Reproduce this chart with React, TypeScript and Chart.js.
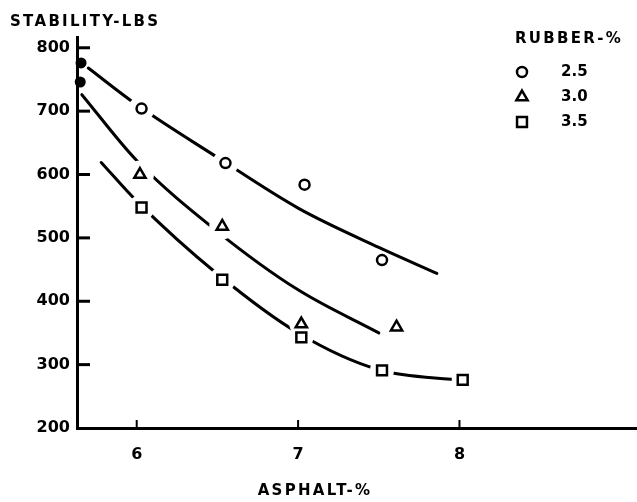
import { useEffect, useRef } from 'react';
import { Chart, registerables } from 'chart.js';

Chart.register(...registerables);

// Axis ticks
const asphaltTicks = [6, 7, 8];
const stabilityTicks = [200, 300, 400, 500, 600, 700, 800];

// Legend
const legendTitle = 'RUBBER-%';
const rubberLabels = ['2.5', '3.0', '3.5'];

// Measured points (asphalt %, stability lbs)
const asphalt25 = [6.03, 6.55, 7.04, 7.52];
const stability25 = [704, 618, 584, 465];
const asphalt30 = [6.02, 6.53, 7.02, 7.61];
const stability30 = [600, 518, 364, 359];
const asphalt35 = [6.03, 6.53, 7.02, 7.52, 8.02];
const stability35 = [548, 434, 343, 291, 276];

// Hand-drawn fitted curves
const curveX25 = [5.7, 6.0, 6.5, 7.0, 7.5, 7.86];
const curveY25 = [768, 710, 627, 547, 485, 444];
const curveX30 = [5.66, 6.0, 6.5, 7.0, 7.5];
const curveY30 = [726, 622, 510, 418, 350];
const curveX35 = [5.78, 6.0, 6.5, 7.0, 7.5, 8.02];
const curveY35 = [619, 558, 443, 350, 292, 275];

// Filled dots on the stability axis
const axisDotX = [5.655, 5.65];
const axisDotY = [776, 746];

const toXY = (xs: number[], ys: number[]) => xs.map((x, i) => ({ x, y: ys[i] }));

const markerStyles = ['circle', 'triangle', 'rect'];
const markerRadius = [5, 6.5, 7];

const drawMarker = (ctx: CanvasRenderingContext2D, style: string, r: number, cx: number, cy: number) => {
  ctx.beginPath();
  if (style === 'circle') {
    ctx.arc(cx, cy, r, 0, Math.PI * 2);
  } else if (style === 'triangle') {
    for (let k = 0; k < 3; k++) {
      const a = -Math.PI / 2 + (k * 2 * Math.PI) / 3;
      const px = cx + r * Math.cos(a);
      const py = cy + r * Math.sin(a);
      if (k === 0) ctx.moveTo(px, py);
      else ctx.lineTo(px, py);
    }
    ctx.closePath();
  } else {
    const s = Math.SQRT1_2 * r;
    ctx.rect(cx - s, cy - s, 2 * s, 2 * s);
  }
  ctx.fillStyle = '#fff';
  ctx.fill();
  ctx.lineWidth = 2.5;
  ctx.strokeStyle = '#000';
  ctx.stroke();
};

const decor = {
  id: 'decor',
  afterDraw(chart: any) {
    const { ctx, chartArea } = chart;
    const xs = chart.scales.x;
    const ys = chart.scales.y;
    ctx.save();
    ctx.strokeStyle = '#000';
    ctx.lineCap = 'butt';
    // inward ticks on the stability axis
    ctx.lineWidth = 3;
    ys.ticks.forEach((t: any) => {
      if (t.value === ys.min) return;
      const py = ys.getPixelForValue(t.value);
      ctx.beginPath();
      ctx.moveTo(chartArea.left, py);
      ctx.lineTo(chartArea.left + 13, py);
      ctx.stroke();
    });
    // inward ticks on the asphalt axis
    ctx.lineWidth = 2;
    xs.ticks.forEach((t: any) => {
      const px = xs.getPixelForValue(t.value);
      ctx.beginPath();
      ctx.moveTo(px, chartArea.bottom);
      ctx.lineTo(px, chartArea.bottom - 8);
      ctx.stroke();
    });
    // titles
    ctx.fillStyle = '#000';
    ctx.font = 'bold 15px "DejaVu Sans"';
    (ctx as any).letterSpacing = '2.3px';
    ctx.textBaseline = 'middle';
    ctx.textAlign = 'left';
    ctx.fillText('STABILITY-LBS', 10, 22);
    ctx.textAlign = 'center';
    ctx.fillText('ASPHALT-%', 315, 491);
    // legend
    ctx.textAlign = 'left';
    ctx.fillText(legendTitle, 515, 39);
    (ctx as any).letterSpacing = '0px';
    ctx.font = 'bold 15px "DejaVu Sans"';
    const rowY = [72, 97, 122];
    rubberLabels.forEach((lab, i) => {
      drawMarker(ctx, markerStyles[i], markerRadius[i], 522, rowY[i]);
      ctx.fillStyle = '#000';
      ctx.fillText(lab, 561, rowY[i]);
    });
    ctx.restore();
  },
};

export default function App() {
  const ref = useRef<HTMLCanvasElement | null>(null);

  useEffect(() => {
    document.body.style.margin = '0';
    const canvas = ref.current;
    if (!canvas) return;
    Chart.defaults.font.family = '"DejaVu Sans"';

    const pointSets = [
      toXY(asphalt25, stability25),
      toXY(asphalt30, stability30),
      toXY(asphalt35, stability35),
    ];
    const curveSets = [
      toXY(curveX25, curveY25),
      toXY(curveX30, curveY30),
      toXY(curveX35, curveY35),
    ];
    // white gap around each marker where the curve is interrupted
    const haloRadius = [
      [13, 13, 10, 8],
      [14, 13, 12, 10],
      [13, 13, 12, 12, 11],
    ];

    const markerDatasets = pointSets.map((data, i) => ({
      label: 'Rubber ' + rubberLabels[i] + '%',
      data,
      showLine: false,
      pointStyle: markerStyles[i],
      pointRadius: markerRadius[i],
      pointBorderWidth: 2.5,
      pointBorderColor: '#000',
      pointBackgroundColor: '#fff',
      order: 0,
      clip: false,
    }));
    const haloDatasets = pointSets.map((data, i) => ({
      label: 'gap',
      data,
      showLine: false,
      pointStyle: 'circle',
      pointRadius: haloRadius[i],
      pointBorderWidth: 0,
      pointBackgroundColor: '#fff',
      pointBorderColor: '#fff',
      order: 1,
      clip: false,
    }));
    const curveDatasets = curveSets.map((data, i) => ({
      label: 'Curve ' + rubberLabels[i],
      data,
      showLine: true,
      pointRadius: 0,
      borderColor: '#000',
      borderWidth: 3,
      borderCapStyle: 'round',
      cubicInterpolationMode: 'monotone',
      fill: false,
      order: 2,
      clip: false,
    }));
    const axisDots = {
      label: 'axis',
      data: toXY(axisDotX, axisDotY),
      showLine: false,
      pointStyle: 'circle',
      pointRadius: 5.5,
      pointBorderWidth: 0,
      pointBackgroundColor: '#000',
      order: 0,
      clip: false,
    };

    const chart = new Chart(canvas, {
      type: 'scatter',
      data: { datasets: [...markerDatasets, axisDots, ...haloDatasets, ...curveDatasets] as any },
      options: {
        animation: false,
        responsive: false,
        devicePixelRatio: 1,
        layout: { autoPadding: false, padding: { top: 37, right: 0, bottom: 0, left: 0 } },
        plugins: { legend: { display: false }, tooltip: { enabled: false } },
        scales: {
          x: {
            type: 'linear',
            min: 5.63,
            max: 9.1,
            afterBuildTicks: (s: any) => {
              s.ticks = asphaltTicks.map((v) => ({ value: v }));
            },
            afterFit: (s: any) => {
              s.height = 74;
            },
            grid: { display: false, drawTicks: false },
            border: { display: true, color: '#000', width: 3 },
            ticks: {
              padding: 17,
              color: '#000',
              font: { size: 16, weight: 'bold' },
              maxRotation: 0,
              callback: (v: any) => String(v),
            },
          },
          y: {
            type: 'linear',
            min: 200,
            max: 817,
            afterBuildTicks: (s: any) => {
              s.ticks = stabilityTicks.map((v) => ({ value: v }));
            },
            afterFit: (s: any) => {
              s.width = 77;
            },
            grid: { display: false, drawTicks: false },
            border: { display: true, color: '#000', width: 3 },
            ticks: {
              padding: 7,
              color: '#000',
              font: { size: 16, weight: 'bold' },
              callback: (v: any) => String(v),
            },
          },
        },
      },
      plugins: [decor],
    });
    return () => chart.destroy();
  }, []);

  return (
    <div style={{ width: 637, height: 502, background: '#fff' }}>
      <canvas ref={ref} width={637} height={502} style={{ display: 'block' }} />
    </div>
  );
}
